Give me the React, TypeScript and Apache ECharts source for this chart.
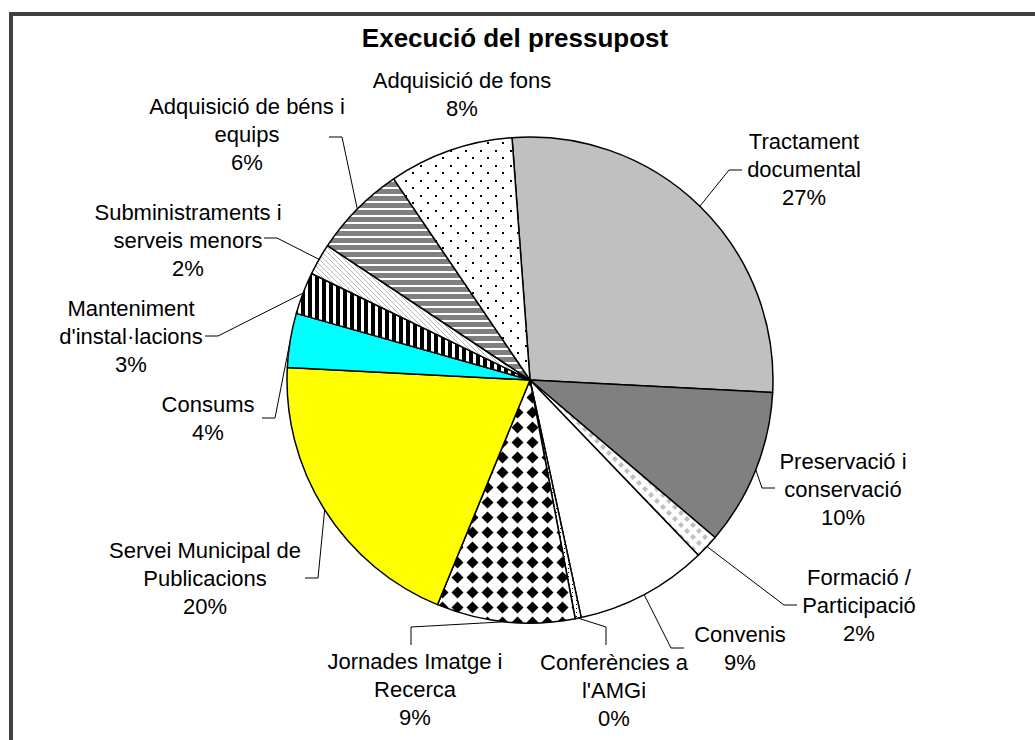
import React, { useEffect, useRef } from "react";
import * as echarts from "echarts";

// ---- data ----
const categories = [
  "Tractament documental",
  "Preservació i conservació",
  "Formació / Participació",
  "Convenis",
  "Conferències a l'AMGi",
  "Jornades Imatge i Recerca",
  "Servei Municipal de Publicacions",
  "Consums",
  "Manteniment d'instal·lacions",
  "Subministraments i serveis menors",
  "Adquisició de béns i equips",
  "Adquisició de fons",
];
// label text as broken in the original chart
const labelTexts = [
  "Tractament\ndocumental",
  "Preservació i\nconservació",
  "Formació /\nParticipació",
  "Convenis",
  "Conferències a\nl'AMGi",
  "Jornades Imatge i\nRecerca",
  "Servei Municipal de\nPublicacions",
  "Consums",
  "Manteniment\nd'instal·lacions",
  "Subministraments i\nserveis menors",
  "Adquisició de béns i\nequips",
  "Adquisició de fons",
];
// shares in percent
const values = [27.0, 10.4, 1.6, 8.8, 0.4, 9.2, 19.6, 3.6, 2.8, 2.1, 6.2, 8.3];
const title = "Execució del pressupost";

// ---- layout: label centre x, centre y, leader attach x, attach y, side ----
const labelLayoutSpec: [number, number, number, number, string][] = [
  [804, 169, 742, 170, "L"],
  [843, 489, 775, 488, "L"],
  [859, 605, 797, 605, "L"],
  [740, 648, 684, 648, "L"],
  [614, 690, 606, 645, "T"],
  [415, 689, 411, 645, "T"],
  [205, 578, 305, 578, "R"],
  [208, 418, 262, 418, "R"],
  [131, 336, 205, 336, "R"],
  [188, 240, 264, 238, "R"],
  [247, 134, 329, 137, "R"],
  [462, 94, 0, 0, "N"],
];

function tile(w: number, h: number, draw: (c: CanvasRenderingContext2D) => void) {
  const cv = document.createElement("canvas");
  cv.width = w;
  cv.height = h;
  const ctx = cv.getContext("2d")!;
  draw(ctx);
  return { image: cv.toDataURL(), imageWidth: w, imageHeight: h, repeat: "repeat" as const };
}

function makeFills(): any[] {
  const diamond = (c: CanvasRenderingContext2D, x: number, y: number, r: number) => {
    c.beginPath();
    c.moveTo(x, y - r);
    c.lineTo(x + r, y);
    c.lineTo(x, y + r);
    c.lineTo(x - r, y);
    c.closePath();
    c.fill();
  };
  return [
    "#C0C0C0",
    "#808080",
    tile(12, 12, (c) => {
      c.fillStyle = "#fff";
      c.fillRect(0, 0, 12, 12);
      c.fillStyle = "#C0C0C0";
      diamond(c, 3, 3, 3);
      diamond(c, 9, 9, 3);
    }),
    "#FFFFFF",
    tile(4, 4, (c) => {
      c.fillStyle = "#fff";
      c.fillRect(0, 0, 4, 4);
      c.fillStyle = "#000";
      c.fillRect(0, 0, 1, 1);
    }),
    tile(15, 15, (c) => {
      c.fillStyle = "#fff";
      c.fillRect(0, 0, 15, 15);
      c.fillStyle = "#000";
      diamond(c, 7.5, 7.5, 6);
      c.fillRect(5, 5, 5, 5);
    }),
    "#FFFF00",
    "#00FFFF",
    tile(7, 7, (c) => {
      c.fillStyle = "#fff";
      c.fillRect(0, 0, 7, 7);
      c.fillStyle = "#000";
      c.fillRect(0, 0, 4, 7);
    }),
    tile(5, 5, (c) => {
      c.fillStyle = "#fff";
      c.fillRect(0, 0, 5, 5);
      c.fillStyle = "#B8B8B8";
      for (let i = 0; i < 5; i++) c.fillRect(i, i, 1, 1);
    }),
    tile(7, 7, (c) => {
      c.fillStyle = "#808080";
      c.fillRect(0, 0, 7, 7);
      c.fillStyle = "#fff";
      c.fillRect(0, 5, 7, 2);
    }),
    tile(15, 15, (c) => {
      c.fillStyle = "#fff";
      c.fillRect(0, 0, 15, 15);
      c.fillStyle = "#000";
      c.fillRect(0, 0, 2, 2);
      c.fillRect(7, 7, 2, 2);
    }),
  ];
}

export default function App() {
  const ref = useRef<HTMLDivElement>(null);
  useEffect(() => {
    document.body.style.margin = "0";
    const chart = echarts.init(ref.current!, null, { renderer: "svg" });
    const fills = makeFills();
    const font = "'Liberation Sans', Arial, sans-serif";
    chart.setOption({
      animation: false,
      backgroundColor: "#ffffff",
      title: {
        text: title,
        left: 510,
        top: 20,
        textAlign: "center",
        textStyle: { fontFamily: font, fontSize: 26, fontWeight: "bold", color: "#000" },
      },
      graphic: [
        {
          type: "rect",
          shape: { x: 11, y: 14, width: 1040, height: 740 },
          style: { fill: "none", stroke: "#404040", lineWidth: 4 },
          silent: true,
        },
      ],
      series: [
        {
          type: "pie",
          center: [530, 380],
          radius: 243,
          startAngle: 94.25,
          clockwise: true,
          avoidLabelOverlap: false,
          itemStyle: { borderColor: "#000", borderWidth: 1.5 },
          emphasis: { disabled: true },
          label: {
            show: true,
            position: "outside",
            fontFamily: font,
            fontSize: 22,
            lineHeight: 28,
            color: "#000",
            formatter: (p: any) => `${labelTexts[p.dataIndex]}\n${Math.round(p.value)}%`,
          },
          labelLine: { show: true, lineStyle: { color: "#000", width: 1 } },
          labelLayout: (params: any) => {
            const i = params.dataIndex;
            const [cx, cy, ax, ay, side] = labelLayoutSpec[i];
            const pts = params.labelLinePoints;
            let linePts: number[][] | undefined;
            if (pts && pts.length) {
              const p0 = pts[0];
              if (side === "L") {
                linePts = [p0, [ax - 13, ay], [ax, ay]];
              } else if (side === "R") {
                linePts = [p0, [ax + 13, ay], [ax, ay]];
              } else if (side === "T") {
                const by = Math.max(p0[1], Math.min(ay - 18, p0[1] + 9));
                linePts = [p0, [ax, by], [ax, ay]];
              } else {
                linePts = [p0, p0, p0];
              }
            }
            return {
              x: cx,
              y: cy,
              align: "center",
              verticalAlign: "middle",
              labelLinePoints: linePts,
            };
          },
          data: categories.map((name, i) => ({
            name,
            value: values[i],
            itemStyle: { color: fills[i] },
            labelLine: { show: i !== 11 },
          })),
        },
      ],
    });
    return () => chart.dispose();
  }, []);
  return <div ref={ref} style={{ width: 1035, height: 740 }} />;
}
